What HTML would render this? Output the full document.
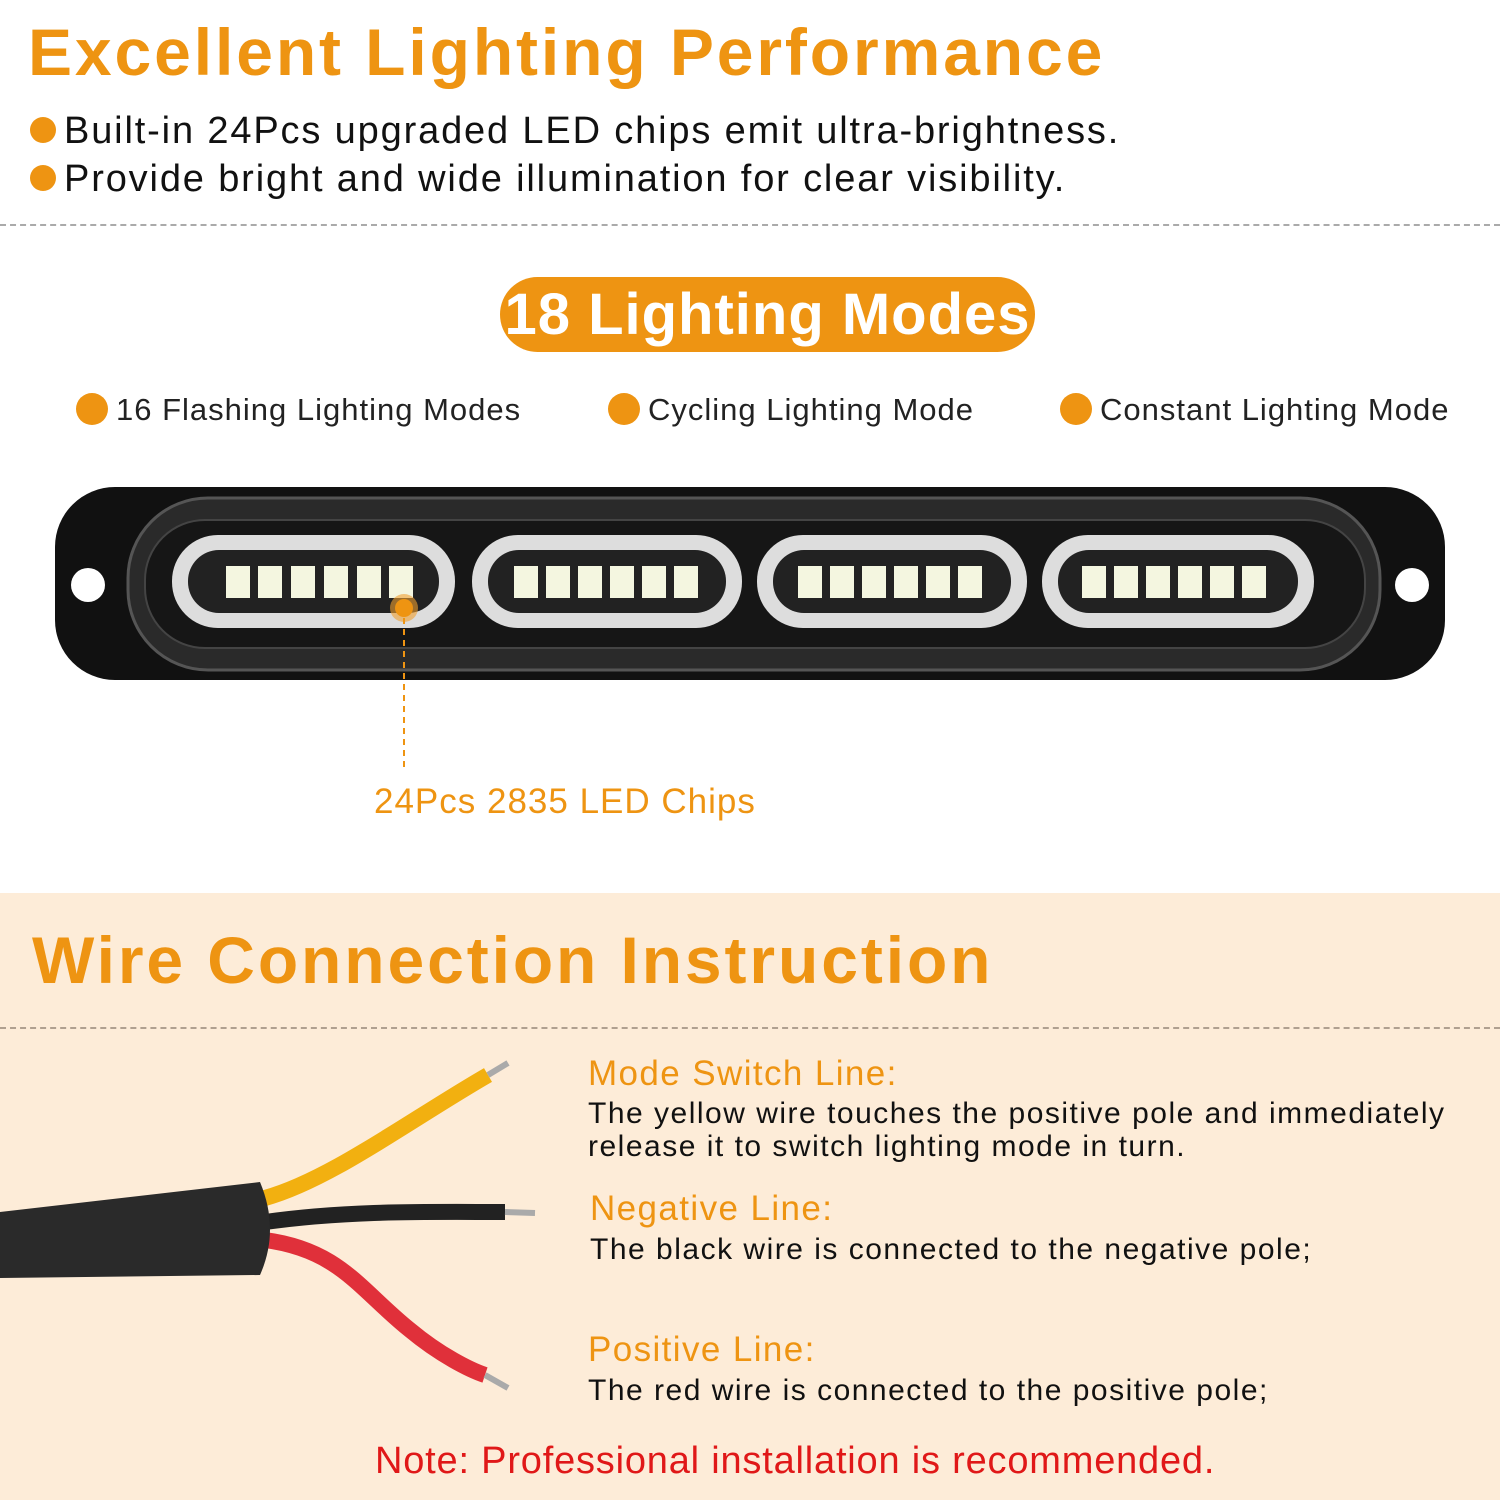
<!DOCTYPE html>
<html><head><meta charset="utf-8"><style>
body{margin:0;width:1500px;height:1500px;background:#fff;font-family:"Liberation Sans",Arial,sans-serif;position:relative;overflow:hidden}
.a{position:absolute;white-space:nowrap}
.o{color:#ee9412}
.t{font-weight:bold;font-size:66px;letter-spacing:2.9px}
.b{font-size:38px;color:#111;letter-spacing:1.85px}
.dot{display:inline-block;width:26px;height:26px;border-radius:50%;background:#ee9412;vertical-align:middle;margin-right:8px}
.dash{position:absolute;left:0;width:1500px;border-top:2px dashed #aaa}
.m{font-size:31px;color:#222;letter-spacing:1px}
.h{font-size:35px;color:#ee9412;letter-spacing:1.4px}
.p{font-size:30px;color:#111;line-height:33px;letter-spacing:1.5px}
</style></head><body>
<div class="a o t" style="left:28px;top:14px">Excellent Lighting Performance</div>
<div class="a b" style="left:30px;top:110px"><span class="dot" style="margin-top:-6px"></span>Built-in 24Pcs upgraded LED chips emit ultra-brightness.</div>
<div class="a b" style="left:30px;top:158px"><span class="dot" style="margin-top:-6px"></span>Provide bright and wide illumination for clear visibility.</div>
<div class="dash" style="top:224px"></div>
<div class="a" style="left:500px;top:277px;width:535px;height:75px;border-radius:38px;background:#ee9412;color:#fff;font-weight:bold;font-size:58px;text-align:center;line-height:75px;letter-spacing:1px">18 Lighting Modes</div>
<div class="a m" style="left:76px;top:392px"><span class="dot" style="width:32px;height:32px;margin-top:-6px"></span>16 Flashing Lighting Modes</div>
<div class="a m" style="left:608px;top:392px"><span class="dot" style="width:32px;height:32px;margin-top:-6px"></span>Cycling Lighting Mode</div>
<div class="a m" style="left:1060px;top:392px"><span class="dot" style="width:32px;height:32px;margin-top:-6px"></span>Constant Lighting Mode</div>
<svg class="a" style="left:0;top:0" width="1500" height="1500">
<rect x="55" y="487" width="1390" height="193" rx="60" fill="#111"/>
<circle cx="88" cy="585" r="17" fill="#fff"/><circle cx="1412" cy="585" r="17" fill="#fff"/>
<rect x="128" y="498" width="1252" height="172" rx="80" fill="#2a2a2a" stroke="#555" stroke-width="3"/>
<rect x="145" y="520" width="1220" height="128" rx="60" fill="#161616" stroke="#444" stroke-width="2"/>
<g>
<rect x="172" y="535" width="283" height="93" rx="46" fill="#ddd"/><rect x="188" y="550" width="251" height="63" rx="31" fill="#222"/>
<rect x="472" y="535" width="270" height="93" rx="46" fill="#ddd"/><rect x="488" y="550" width="238" height="63" rx="31" fill="#222"/>
<rect x="757" y="535" width="270" height="93" rx="46" fill="#ddd"/><rect x="773" y="550" width="238" height="63" rx="31" fill="#222"/>
<rect x="1042" y="535" width="272" height="93" rx="46" fill="#ddd"/><rect x="1058" y="550" width="240" height="63" rx="31" fill="#222"/>
</g>
<g fill="#f4f6e0">
<rect x="226" y="566" width="24" height="32"/><rect x="258" y="566" width="24" height="32"/><rect x="291" y="566" width="24" height="32"/><rect x="324" y="566" width="24" height="32"/><rect x="357" y="566" width="24" height="32"/><rect x="389" y="566" width="24" height="32"/>
<rect x="514" y="566" width="24" height="32"/><rect x="546" y="566" width="24" height="32"/><rect x="578" y="566" width="24" height="32"/><rect x="610" y="566" width="24" height="32"/><rect x="642" y="566" width="24" height="32"/><rect x="674" y="566" width="24" height="32"/>
<rect x="798" y="566" width="24" height="32"/><rect x="830" y="566" width="24" height="32"/><rect x="862" y="566" width="24" height="32"/><rect x="894" y="566" width="24" height="32"/><rect x="926" y="566" width="24" height="32"/><rect x="958" y="566" width="24" height="32"/>
<rect x="1082" y="566" width="24" height="32"/><rect x="1114" y="566" width="24" height="32"/><rect x="1146" y="566" width="24" height="32"/><rect x="1178" y="566" width="24" height="32"/><rect x="1210" y="566" width="24" height="32"/><rect x="1242" y="566" width="24" height="32"/>
</g>
<circle cx="404" cy="608" r="14" fill="#f0a030" opacity=".6"/><circle cx="404" cy="608" r="9" fill="#ee9412"/>
<line x1="404" y1="618" x2="404" y2="772" stroke="#ee9412" stroke-width="2" stroke-dasharray="6,5"/>
</svg>
<div class="a" style="left:374px;top:782px;font-size:35px;color:#ee9412;letter-spacing:1px">24Pcs 2835 LED Chips</div>
<div class="a" style="left:0;top:893px;width:1500px;height:607px;background:#fdecd8"></div>
<div class="a o t" style="left:32px;top:922px">Wire Connection Instruction</div>
<div class="dash" style="top:1027px;border-color:#b0a090"></div>
<svg class="a" style="left:0;top:0" width="1500" height="1500">
<path d="M265,1198 C330,1180 410,1120 488,1075" stroke="#f2b010" stroke-width="16" fill="none"/>
<path d="M488,1075 L508,1063" stroke="#aaa" stroke-width="6"/>
<path d="M265,1222 C350,1210 430,1212 505,1212" stroke="#222" stroke-width="16" fill="none"/>
<path d="M505,1212 L535,1213" stroke="#aaa" stroke-width="6"/>
<path d="M265,1240 C340,1250 360,1290 410,1330 C440,1355 470,1370 485,1375" stroke="#e0303a" stroke-width="16" fill="none"/>
<path d="M485,1375 L508,1388" stroke="#aaa" stroke-width="6"/>
<path d="M0,1212 L260,1182 Q280,1230 260,1275 L0,1278 Z" fill="#2a2a2a"/>
</svg>
<div class="a h" style="left:588px;top:1054px">Mode Switch Line:</div>
<div class="a p" style="left:588px;top:1097px">The yellow wire touches the positive pole and immediately<br>release it to switch lighting mode in turn.</div>
<div class="a h" style="left:590px;top:1189px">Negative Line:</div>
<div class="a p" style="left:590px;top:1233px">The black wire is connected to the negative pole;</div>
<div class="a h" style="left:588px;top:1330px">Positive Line:</div>
<div class="a p" style="left:588px;top:1374px">The red wire is connected to the positive pole;</div>
<div class="a" style="left:375px;top:1440px;font-size:38px;color:#e01818;letter-spacing:0.8px">Note: Professional installation is recommended.</div>
</body></html>
